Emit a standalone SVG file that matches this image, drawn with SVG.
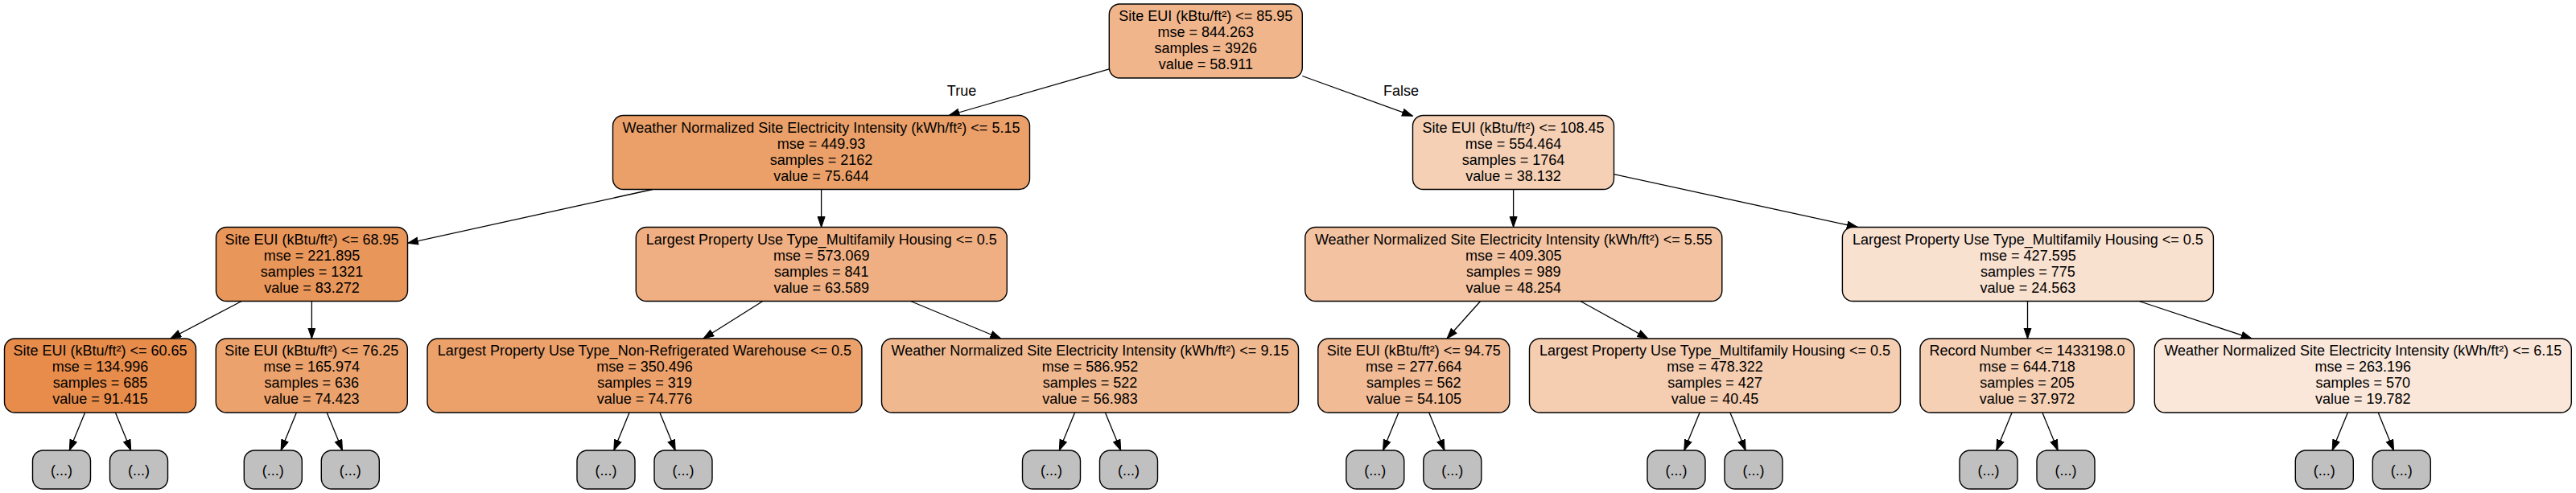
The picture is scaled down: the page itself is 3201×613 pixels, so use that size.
<svg xmlns="http://www.w3.org/2000/svg" width="3201" height="613" viewBox="0 0 3201 613">
<style>
text{font-family:"Liberation Sans",Arial,Helvetica,sans-serif;font-size:18px;fill:#000;text-anchor:middle}
.box{stroke:#000;stroke-width:1.4}
.leaf{fill:#c0c0c0;stroke:#000;stroke-width:1.4}
.edges line{stroke:#000;stroke-width:1.3;marker-end:url(#ah)}
</style>
<defs>
<marker id="ah" markerUnits="userSpaceOnUse" markerWidth="14" markerHeight="11" viewBox="0 0 14 11" refX="13.5" refY="5" orient="auto">
<path d="M0.5,0.5 L13.5,5 L0.5,9.5 z" fill="#000" stroke="#000" stroke-width="1"/>
</marker>
</defs>
<rect width="3201" height="613" fill="#fff"/>
<g class="edges" id="edges">
<line x1="1378.3" y1="85.8" x2="1179.1" y2="143.5"/>
<line x1="1618.3" y1="94.5" x2="1755.5" y2="144.2"/>
<line x1="811" y1="235.5" x2="506.5" y2="302.4"/>
<line x1="1020.6" y1="235.5" x2="1020.6" y2="282.5"/>
<line x1="1880.6" y1="235.5" x2="1880.6" y2="282.5"/>
<line x1="2005.5" y1="216.7" x2="2308.3" y2="282.5"/>
<line x1="300.2" y1="374.5" x2="211.8" y2="421"/>
<line x1="387.4" y1="374.5" x2="387.4" y2="421"/>
<line x1="947.8" y1="374.5" x2="874" y2="421"/>
<line x1="1131.6" y1="374.5" x2="1243.7" y2="421"/>
<line x1="1839.6" y1="374.5" x2="1798" y2="421"/>
<line x1="1963.9" y1="374.5" x2="2047.9" y2="421"/>
<line x1="2519.5" y1="374.5" x2="2519.5" y2="421"/>
<line x1="2658.1" y1="374.5" x2="2798.1" y2="421"/>
<line x1="105.6" y1="513" x2="86.3" y2="560"/>
<line x1="143.4" y1="513" x2="162.7" y2="560"/>
<line x1="368.4" y1="513" x2="349.1" y2="560"/>
<line x1="406.2" y1="513" x2="425.5" y2="560"/>
<line x1="782.1" y1="513" x2="762.8" y2="560"/>
<line x1="819.9" y1="513" x2="839.2" y2="560"/>
<line x1="1335.6" y1="513" x2="1316.3" y2="560"/>
<line x1="1373.4" y1="513" x2="1392.7" y2="560"/>
<line x1="1737.9" y1="513" x2="1718.6" y2="560"/>
<line x1="1775.7" y1="513" x2="1795" y2="560"/>
<line x1="2112.1" y1="513" x2="2092.8" y2="560"/>
<line x1="2149.9" y1="513" x2="2169.2" y2="560"/>
<line x1="2500.1" y1="513" x2="2480.8" y2="560"/>
<line x1="2537.9" y1="513" x2="2557.2" y2="560"/>
<line x1="2917.4" y1="513" x2="2898.1" y2="560"/>
<line x1="2955.2" y1="513" x2="2974.5" y2="560"/>
<text x="1195" y="119">True</text>
<text x="1741" y="119">False</text>
</g>
<g id="n0"><rect class="box" x="1378.3" y="5" width="240" height="92" rx="13" fill="#f0b58b"/>
<text x="1498.3" y="26">Site EUI (kBtu/ft²) &lt;= 85.95</text><text x="1498.3" y="46">mse = 844.263</text><text x="1498.3" y="66">samples = 3926</text><text x="1498.3" y="86">value = 58.911</text></g>
<g id="n1"><rect class="box" x="761.5" y="143.5" width="518" height="92" rx="13" fill="#eba06a"/>
<text x="1020.5" y="164.5">Weather Normalized Site Electricity Intensity (kWh/ft²) &lt;= 5.15</text><text x="1020.5" y="184.5">mse = 449.93</text><text x="1020.5" y="204.5">samples = 2162</text><text x="1020.5" y="224.5">value = 75.644</text></g>
<g id="n2"><rect class="box" x="1755.5" y="143.5" width="250" height="92" rx="13" fill="#f5d0b5"/>
<text x="1880.5" y="164.5">Site EUI (kBtu/ft²) &lt;= 108.45</text><text x="1880.5" y="184.5">mse = 554.464</text><text x="1880.5" y="204.5">samples = 1764</text><text x="1880.5" y="224.5">value = 38.132</text></g>
<g id="n3"><rect class="box" x="268.5" y="282.5" width="238" height="92" rx="13" fill="#e9965a"/>
<text x="387.5" y="303.5">Site EUI (kBtu/ft²) &lt;= 68.95</text><text x="387.5" y="323.5">mse = 221.895</text><text x="387.5" y="343.5">samples = 1321</text><text x="387.5" y="363.5">value = 83.272</text></g>
<g id="n4"><rect class="box" x="790.3" y="282.5" width="461" height="92" rx="13" fill="#efaf82"/>
<text x="1020.8" y="303.5">Largest Property Use Type_Multifamily Housing &lt;= 0.5</text><text x="1020.8" y="323.5">mse = 573.069</text><text x="1020.8" y="343.5">samples = 841</text><text x="1020.8" y="363.5">value = 63.589</text></g>
<g id="n5"><rect class="box" x="1621.8" y="282.5" width="518" height="92" rx="13" fill="#f3c3a1"/>
<text x="1880.8" y="303.5">Weather Normalized Site Electricity Intensity (kWh/ft²) &lt;= 5.55</text><text x="1880.8" y="323.5">mse = 409.305</text><text x="1880.8" y="343.5">samples = 989</text><text x="1880.8" y="363.5">value = 48.254</text></g>
<g id="n6"><rect class="box" x="2289.4" y="282.5" width="461" height="92" rx="13" fill="#f9e1d0"/>
<text x="2519.9" y="303.5">Largest Property Use Type_Multifamily Housing &lt;= 0.5</text><text x="2519.9" y="323.5">mse = 427.595</text><text x="2519.9" y="343.5">samples = 775</text><text x="2519.9" y="363.5">value = 24.563</text></g>
<g id="n7"><rect class="box" x="5.5" y="421" width="238" height="92" rx="13" fill="#e78c4a"/>
<text x="124.5" y="442">Site EUI (kBtu/ft²) &lt;= 60.65</text><text x="124.5" y="462">mse = 134.996</text><text x="124.5" y="482">samples = 685</text><text x="124.5" y="502">value = 91.415</text></g>
<g id="n8"><rect class="box" x="268.3" y="421" width="238" height="92" rx="13" fill="#eca26c"/>
<text x="387.3" y="442">Site EUI (kBtu/ft²) &lt;= 76.25</text><text x="387.3" y="462">mse = 165.974</text><text x="387.3" y="482">samples = 636</text><text x="387.3" y="502">value = 74.423</text></g>
<g id="n9"><rect class="box" x="531" y="421" width="540" height="92" rx="13" fill="#eca16b"/>
<text x="801" y="442">Largest Property Use Type_Non-Refrigerated Warehouse &lt;= 0.5</text><text x="801" y="462">mse = 350.496</text><text x="801" y="482">samples = 319</text><text x="801" y="502">value = 74.776</text></g>
<g id="n10"><rect class="box" x="1095.5" y="421" width="518" height="92" rx="13" fill="#f0b88f"/>
<text x="1354.5" y="442">Weather Normalized Site Electricity Intensity (kWh/ft²) &lt;= 9.15</text><text x="1354.5" y="462">mse = 586.952</text><text x="1354.5" y="482">samples = 522</text><text x="1354.5" y="502">value = 56.983</text></g>
<g id="n11"><rect class="box" x="1637.8" y="421" width="238" height="92" rx="13" fill="#f1bb95"/>
<text x="1756.8" y="442">Site EUI (kBtu/ft²) &lt;= 94.75</text><text x="1756.8" y="462">mse = 277.664</text><text x="1756.8" y="482">samples = 562</text><text x="1756.8" y="502">value = 54.105</text></g>
<g id="n12"><rect class="box" x="1900.5" y="421" width="461" height="92" rx="13" fill="#f5cdb0"/>
<text x="2131" y="442">Largest Property Use Type_Multifamily Housing &lt;= 0.5</text><text x="2131" y="462">mse = 478.322</text><text x="2131" y="482">samples = 427</text><text x="2131" y="502">value = 40.45</text></g>
<g id="n13"><rect class="box" x="2386" y="421" width="266" height="92" rx="13" fill="#f5d0b5"/>
<text x="2519" y="442">Record Number &lt;= 1433198.0</text><text x="2519" y="462">mse = 644.718</text><text x="2519" y="482">samples = 205</text><text x="2519" y="502">value = 37.972</text></g>
<g id="n14"><rect class="box" x="2677.3" y="421" width="518" height="92" rx="13" fill="#fae7d9"/>
<text x="2936.3" y="442">Weather Normalized Site Electricity Intensity (kWh/ft²) &lt;= 6.15</text><text x="2936.3" y="462">mse = 263.196</text><text x="2936.3" y="482">samples = 570</text><text x="2936.3" y="502">value = 19.782</text></g>
<g id="e1"><rect class="leaf" x="40.5" y="560" width="72" height="48" rx="13"/><text x="76.5" y="590.5">(...)</text></g>
<g id="e2"><rect class="leaf" x="136.5" y="560" width="72" height="48" rx="13"/><text x="172.5" y="590.5">(...)</text></g>
<g id="e3"><rect class="leaf" x="303.3" y="560" width="72" height="48" rx="13"/><text x="339.3" y="590.5">(...)</text></g>
<g id="e4"><rect class="leaf" x="399.3" y="560" width="72" height="48" rx="13"/><text x="435.3" y="590.5">(...)</text></g>
<g id="e5"><rect class="leaf" x="717" y="560" width="72" height="48" rx="13"/><text x="753" y="590.5">(...)</text></g>
<g id="e6"><rect class="leaf" x="813" y="560" width="72" height="48" rx="13"/><text x="849" y="590.5">(...)</text></g>
<g id="e7"><rect class="leaf" x="1270.5" y="560" width="72" height="48" rx="13"/><text x="1306.5" y="590.5">(...)</text></g>
<g id="e8"><rect class="leaf" x="1366.5" y="560" width="72" height="48" rx="13"/><text x="1402.5" y="590.5">(...)</text></g>
<g id="e9"><rect class="leaf" x="1672.8" y="560" width="72" height="48" rx="13"/><text x="1708.8" y="590.5">(...)</text></g>
<g id="e10"><rect class="leaf" x="1768.8" y="560" width="72" height="48" rx="13"/><text x="1804.8" y="590.5">(...)</text></g>
<g id="e11"><rect class="leaf" x="2047" y="560" width="72" height="48" rx="13"/><text x="2083" y="590.5">(...)</text></g>
<g id="e12"><rect class="leaf" x="2143" y="560" width="72" height="48" rx="13"/><text x="2179" y="590.5">(...)</text></g>
<g id="e13"><rect class="leaf" x="2435" y="560" width="72" height="48" rx="13"/><text x="2471" y="590.5">(...)</text></g>
<g id="e14"><rect class="leaf" x="2531" y="560" width="72" height="48" rx="13"/><text x="2567" y="590.5">(...)</text></g>
<g id="e15"><rect class="leaf" x="2852.3" y="560" width="72" height="48" rx="13"/><text x="2888.3" y="590.5">(...)</text></g>
<g id="e16"><rect class="leaf" x="2948.3" y="560" width="72" height="48" rx="13"/><text x="2984.3" y="590.5">(...)</text></g>
</svg>
